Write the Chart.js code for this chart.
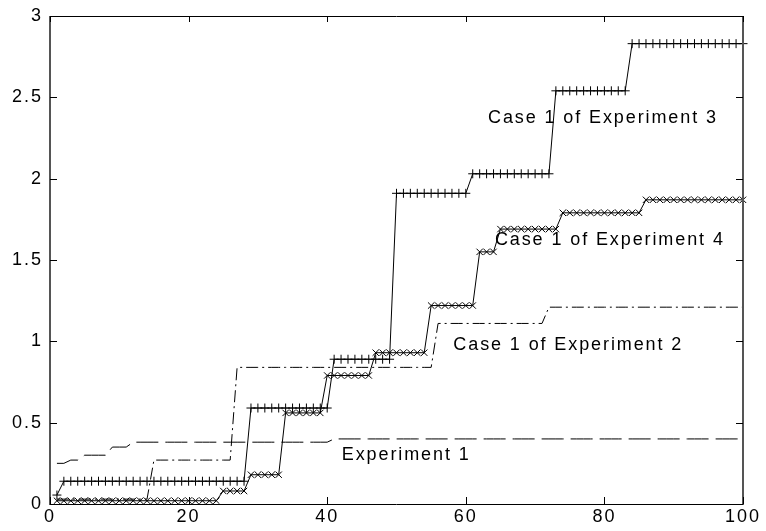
<!DOCTYPE html>
<html>
<head>
<meta charset="utf-8">
<script src="https://cdn.jsdelivr.net/npm/chart.js@4.4.1/dist/chart.umd.min.js"></script>
<style>
  html, body { margin: 0; padding: 0; background: #fff; }
</style>
</head>
<body>
<canvas id="chart" width="766" height="531"></canvas>
<script>
// x positions (one sample per unit)
const xs = [
  1, 2, 3, 4, 5, 6, 7, 8, 9, 10,
  11, 12, 13, 14, 15, 16, 17, 18, 19, 20,
  21, 22, 23, 24, 25, 26, 27, 28, 29, 30,
  31, 32, 33, 34, 35, 36, 37, 38, 39, 40,
  41, 42, 43, 44, 45, 46, 47, 48, 49, 50,
  51, 52, 53, 54, 55, 56, 57, 58, 59, 60,
  61, 62, 63, 64, 65, 66, 67, 68, 69, 70,
  71, 72, 73, 74, 75, 76, 77, 78, 79, 80,
  81, 82, 83, 84, 85, 86, 87, 88, 89, 90,
  91, 92, 93, 94, 95, 96, 97, 98, 99, 100
];

const experiment1 = [
  0.25, 0.25, 0.27, 0.27, 0.30, 0.30, 0.30, 0.30, 0.35, 0.35,
  0.35, 0.38, 0.38, 0.38, 0.38, 0.38, 0.38, 0.38, 0.38, 0.38,
  0.38, 0.38, 0.38, 0.38, 0.38, 0.38, 0.38, 0.38, 0.38, 0.38,
  0.38, 0.38, 0.38, 0.38, 0.38, 0.38, 0.38, 0.38, 0.38, 0.38,
  0.40, 0.40, 0.40, 0.40, 0.40, 0.40, 0.40, 0.40, 0.40, 0.40,
  0.40, 0.40, 0.40, 0.40, 0.40, 0.40, 0.40, 0.40, 0.40, 0.40,
  0.40, 0.40, 0.40, 0.40, 0.40, 0.40, 0.40, 0.40, 0.40, 0.40,
  0.40, 0.40, 0.40, 0.40, 0.40, 0.40, 0.40, 0.40, 0.40, 0.40,
  0.40, 0.40, 0.40, 0.40, 0.40, 0.40, 0.40, 0.40, 0.40, 0.40,
  0.40, 0.40, 0.40, 0.40, 0.40, 0.40, 0.40, 0.40, 0.40, 0.40
];

const case1Exp2 = [
  0.03, 0.03, 0.03, 0.03, 0.03, 0.03, 0.03, 0.03, 0.03, 0.03,
  0.03, 0.03, 0.03, 0.03, 0.27, 0.27, 0.27, 0.27, 0.27, 0.27,
  0.27, 0.27, 0.27, 0.27, 0.27, 0.27, 0.84, 0.84, 0.84, 0.84,
  0.84, 0.84, 0.84, 0.84, 0.84, 0.84, 0.84, 0.84, 0.84, 0.84,
  0.84, 0.84, 0.84, 0.84, 0.84, 0.84, 0.84, 0.84, 0.84, 0.84,
  0.84, 0.84, 0.84, 0.84, 0.84, 1.11, 1.11, 1.11, 1.11, 1.11,
  1.11, 1.11, 1.11, 1.11, 1.11, 1.11, 1.11, 1.11, 1.11, 1.11,
  1.11, 1.21, 1.21, 1.21, 1.21, 1.21, 1.21, 1.21, 1.21, 1.21,
  1.21, 1.21, 1.21, 1.21, 1.21, 1.21, 1.21, 1.21, 1.21, 1.21,
  1.21, 1.21, 1.21, 1.21, 1.21, 1.21, 1.21, 1.21, 1.21, 1.21
];

const case1Exp3 = [
  0.055, 0.14, 0.14, 0.14, 0.14, 0.14, 0.14, 0.14, 0.14, 0.14,
  0.14, 0.14, 0.14, 0.14, 0.14, 0.14, 0.14, 0.14, 0.14, 0.14,
  0.14, 0.14, 0.14, 0.14, 0.14, 0.14, 0.14, 0.14, 0.59, 0.59,
  0.59, 0.59, 0.59, 0.59, 0.59, 0.59, 0.59, 0.59, 0.59, 0.59,
  0.89, 0.89, 0.89, 0.89, 0.89, 0.89, 0.89, 0.89, 0.89, 1.91,
  1.91, 1.91, 1.91, 1.91, 1.91, 1.91, 1.91, 1.91, 1.91, 1.91,
  2.03, 2.03, 2.03, 2.03, 2.03, 2.03, 2.03, 2.03, 2.03, 2.03,
  2.03, 2.03, 2.54, 2.54, 2.54, 2.54, 2.54, 2.54, 2.54, 2.54,
  2.54, 2.54, 2.54, 2.83, 2.83, 2.83, 2.83, 2.83, 2.83, 2.83,
  2.83, 2.83, 2.83, 2.83, 2.83, 2.83, 2.83, 2.83, 2.83, 2.83
];

const case1Exp4 = [
  0.02, 0.02, 0.02, 0.02, 0.02, 0.02, 0.02, 0.02, 0.02, 0.02,
  0.02, 0.02, 0.02, 0.02, 0.02, 0.02, 0.02, 0.02, 0.02, 0.02,
  0.02, 0.02, 0.02, 0.02, 0.08, 0.08, 0.08, 0.08, 0.18, 0.18,
  0.18, 0.18, 0.18, 0.56, 0.56, 0.56, 0.56, 0.56, 0.56, 0.79,
  0.79, 0.79, 0.79, 0.79, 0.79, 0.79, 0.93, 0.93, 0.93, 0.93,
  0.93, 0.93, 0.93, 0.93, 1.22, 1.22, 1.22, 1.22, 1.22, 1.22,
  1.22, 1.55, 1.55, 1.55, 1.69, 1.69, 1.69, 1.69, 1.69, 1.69,
  1.69, 1.69, 1.69, 1.79, 1.79, 1.79, 1.79, 1.79, 1.79, 1.79,
  1.79, 1.79, 1.79, 1.79, 1.79, 1.87, 1.87, 1.87, 1.87, 1.87,
  1.87, 1.87, 1.87, 1.87, 1.87, 1.87, 1.87, 1.87, 1.87, 1.87
];

const xTicks = [0, 20, 40, 60, 80, 100];
const yTicks = [0, 0.5, 1, 1.5, 2, 2.5, 3];

const curveLabels = ["Case 1 of Experiment 3", "Case 1 of Experiment 4", "Case 1 of Experiment 2", "Experiment 1"];

const FONT = "'Liberation Sans', Arial, sans-serif";

function toPoints(values) {
  return values.map((v, i) => ({ x: xs[i], y: v }));
}

// inward ticks, box and in-plot captions
const boxPlugin = {
  id: "box",
  beforeDraw(chart) {
    chart.ctx.letterSpacing = "2px";
  },
  afterDraw(chart) {
    const { ctx, chartArea: a, scales: { x, y } } = chart;
    ctx.save();
    ctx.letterSpacing = "0px";

    // frame
    ctx.strokeStyle = "#000";
    ctx.lineWidth = 1;
    ctx.beginPath();
    ctx.moveTo(a.left, a.top + 0.5); ctx.lineTo(a.right, a.top + 0.5);
    ctx.moveTo(a.left, a.bottom + 0.5); ctx.lineTo(a.right, a.bottom + 0.5);
    ctx.stroke();
    ctx.strokeStyle = "#555";
    ctx.lineWidth = 2;
    ctx.beginPath();
    ctx.moveTo(a.left, a.top); ctx.lineTo(a.left, a.bottom + 1);
    ctx.moveTo(a.right, a.top); ctx.lineTo(a.right, a.bottom + 1);
    ctx.stroke();

    // ticks
    ctx.strokeStyle = "#000";
    ctx.lineWidth = 1;
    ctx.beginPath();
    xTicks.forEach(t => {
      const px = Math.round(x.getPixelForValue(t)) + 0.5;
      ctx.moveTo(px, a.bottom); ctx.lineTo(px, a.bottom - 7);
      ctx.moveTo(px, a.top); ctx.lineTo(px, a.top + 6);
    });
    yTicks.forEach(t => {
      const py = Math.round(y.getPixelForValue(t)) + 0.5;
      ctx.moveTo(a.left, py); ctx.lineTo(a.left + 7, py);
      ctx.moveTo(a.right, py); ctx.lineTo(a.right - 7, py);
    });
    ctx.stroke();

    // captions next to the curves
    const spots = [[63.2, 2.37], [64.2, 1.62], [58.2, 0.98], [42.1, 0.30]];
    ctx.fillStyle = "#000";
    ctx.font = "18px " + FONT;
    ctx.letterSpacing = "1.9px";
    ctx.textAlign = "left";
    ctx.textBaseline = "middle";
    curveLabels.forEach((txt, i) => {
      ctx.fillText(txt, x.getPixelForValue(spots[i][0]), y.getPixelForValue(spots[i][1]));
    });
    ctx.restore();
  }
};

const ctx = document.getElementById("chart").getContext("2d");
new Chart(ctx, {
  type: "line",
  data: {
    datasets: [
      {
        label: "Experiment 1",
        data: toPoints(experiment1),
        borderColor: "#000", borderWidth: 1, borderDash: [22, 7],
        pointRadius: 0, tension: 0
      },
      {
        label: "Case 1 of Experiment 2",
        data: toPoints(case1Exp2),
        borderColor: "#000", borderWidth: 1, borderDash: [12, 4, 2, 4],
        pointRadius: 0, tension: 0
      },
      {
        label: "Case 1 of Experiment 3",
        data: toPoints(case1Exp3),
        borderColor: "#000", borderWidth: 1,
        pointStyle: "cross", pointRadius: 4.5, pointBorderWidth: 1,
        pointBorderColor: "#000", tension: 0
      },
      {
        label: "Case 1 of Experiment 4",
        data: toPoints(case1Exp4),
        borderColor: "#000", borderWidth: 1,
        pointStyle: "crossRot", pointRadius: 4.5, pointBorderWidth: 1,
        pointBorderColor: "#000", tension: 0
      }
    ]
  },
  options: {
    responsive: false,
    animation: false,
    clip: false,
    layout: { padding: { left: 0, top: 9, right: 23, bottom: 0 } },
    plugins: { legend: { display: false }, tooltip: { enabled: false } },
    elements: { point: { hoverRadius: 0 } },
    scales: {
      x: {
        type: "linear", min: 0, max: 100,
        afterFit: s => { s.height = 27; },
        afterBuildTicks: s => { s.ticks = xTicks.map(v => ({ value: v })); },
        grid: { display: false, drawTicks: false },
        border: { display: false },
        ticks: { color: "#000", padding: 4, maxRotation: 0, font: { family: FONT, size: 18, lineHeight: 1 },
                 callback: v => String(v) }
      },
      y: {
        type: "linear", min: 0, max: 3,
        afterFit: s => { s.width = 50; },
        afterBuildTicks: s => { s.ticks = yTicks.map(v => ({ value: v })); },
        grid: { display: false, drawTicks: false },
        border: { display: false },
        ticks: { color: "#000", padding: 7, font: { family: FONT, size: 18, lineHeight: 1 },
                 callback: v => String(v) }
      }
    }
  },
  plugins: [boxPlugin]
});
</script>
</body>
</html>
